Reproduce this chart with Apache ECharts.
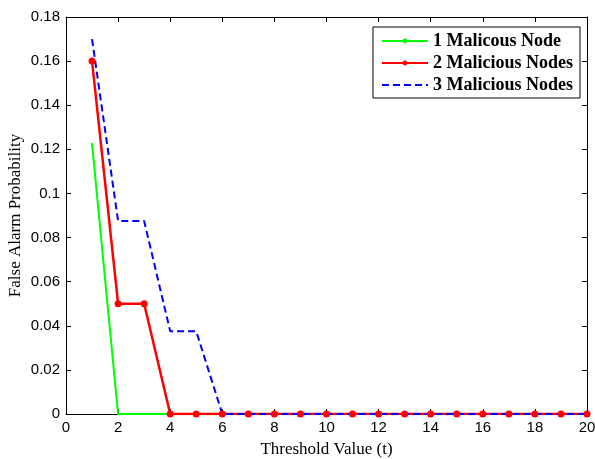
<!DOCTYPE html>
<html>
<head>
<meta charset="utf-8">
<script src="https://cdn.jsdelivr.net/npm/echarts@6/dist/echarts.min.js"></script>
<style>
  html, body { margin: 0; padding: 0; background: #fff; }
  #chart { width: 595px; height: 459px; }
</style>
</head>
<body>
<div id="chart"></div>
<script>
// threshold values 1..20
const thresholds = [1, 2, 3, 4, 5, 6, 7, 8, 9, 10, 11, 12, 13, 14, 15, 16, 17, 18, 19, 20];
const oneNode = [0.1225, 0, 0, 0, 0, 0, 0, 0, 0, 0, 0, 0, 0, 0, 0, 0, 0, 0, 0, 0];
const twoNodes = [0.16, 0.05, 0.05, 0, 0, 0, 0, 0, 0, 0, 0, 0, 0, 0, 0, 0, 0, 0, 0, 0];
const threeNodes = [0.17, 0.0875, 0.0875, 0.0375, 0.0375, 0, 0, 0, 0, 0, 0, 0, 0, 0, 0, 0, 0, 0, 0, 0];
const seriesNames = ['1 Malicous Node', '2 Malicious Nodes', '3 Malicious Nodes'];

const pairs = vals => thresholds.map((t, i) => [t, vals[i]]);

const tickFont = { color: '#000', fontFamily: 'Liberation Sans, Arial, sans-serif', fontSize: 15, margin: 6 };
const nameFont = { color: '#000', fontFamily: 'Liberation Serif, Times New Roman, serif', fontSize: 17 };
const boxLine = { show: true, onZero: false, lineStyle: { color: '#000', width: 1 } };
const inTicks = { show: true, inside: true, length: 5, lineStyle: { color: '#000' } };

const chart = echarts.init(document.getElementById('chart'));
chart.setOption({
  animation: false,
  grid: { left: 66, right: 8, top: 17, bottom: 45, outerBoundsMode: 'none', containLabel: false },
  legend: {
    right: 15,
    top: 27,
    orient: 'vertical',
    backgroundColor: '#fff',
    borderColor: '#000',
    borderWidth: 1,
    borderRadius: 0,
    padding: [5, 7, 4, 8],
    itemGap: 4,
    itemWidth: 46,
    itemHeight: 6,
    textStyle: { color: '#000', fontFamily: 'Liberation Serif, Times New Roman, serif', fontSize: 18, fontWeight: 'bold' },
    data: [
      { name: seriesNames[0] },
      { name: seriesNames[1] },
      { name: seriesNames[2], itemStyle: { opacity: 0 } }
    ]
  },
  xAxis: [
    {
      type: 'value', min: 0, max: 20, interval: 2,
      name: 'Threshold Value (t)', nameLocation: 'middle', nameGap: 27, nameTextStyle: nameFont,
      nameMoveOverlap: false,
      axisLine: boxLine, axisTick: inTicks, axisLabel: tickFont, splitLine: { show: false }
    },
    {
      type: 'value', min: 0, max: 20, interval: 2, position: 'top',
      axisLine: boxLine, axisTick: inTicks, axisLabel: { show: false }, splitLine: { show: false }
    }
  ],
  yAxis: [
    {
      type: 'value', min: 0, max: 0.18, interval: 0.02,
      name: 'False Alarm Probability', nameLocation: 'middle', nameGap: 42, nameTextStyle: nameFont,
      nameMoveOverlap: false,
      axisLine: boxLine, axisTick: inTicks, axisLabel: tickFont, splitLine: { show: false }
    },
    {
      type: 'value', min: 0, max: 0.18, interval: 0.02, position: 'right',
      axisLine: boxLine, axisTick: inTicks, axisLabel: { show: false }, splitLine: { show: false }
    }
  ],
  series: [
    {
      name: seriesNames[0], type: 'line', data: pairs(oneNode),
      symbol: 'circle', symbolSize: 2, showSymbol: true,
      itemStyle: { color: '#00ff00' }, lineStyle: { color: '#00ff00', width: 2 }
    },
    {
      name: seriesNames[1], type: 'line', data: pairs(twoNodes),
      symbol: 'circle', symbolSize: 7,
      itemStyle: { color: '#ff0000' }, lineStyle: { color: '#ff0000', width: 2.5 }
    },
    {
      name: seriesNames[2], type: 'line', data: pairs(threeNodes),
      symbol: 'none',
      itemStyle: { color: '#0000ff' }, lineStyle: { color: '#0000ff', width: 2, type: [7, 4] }
    }
  ]
});
</script>
</body>
</html>
